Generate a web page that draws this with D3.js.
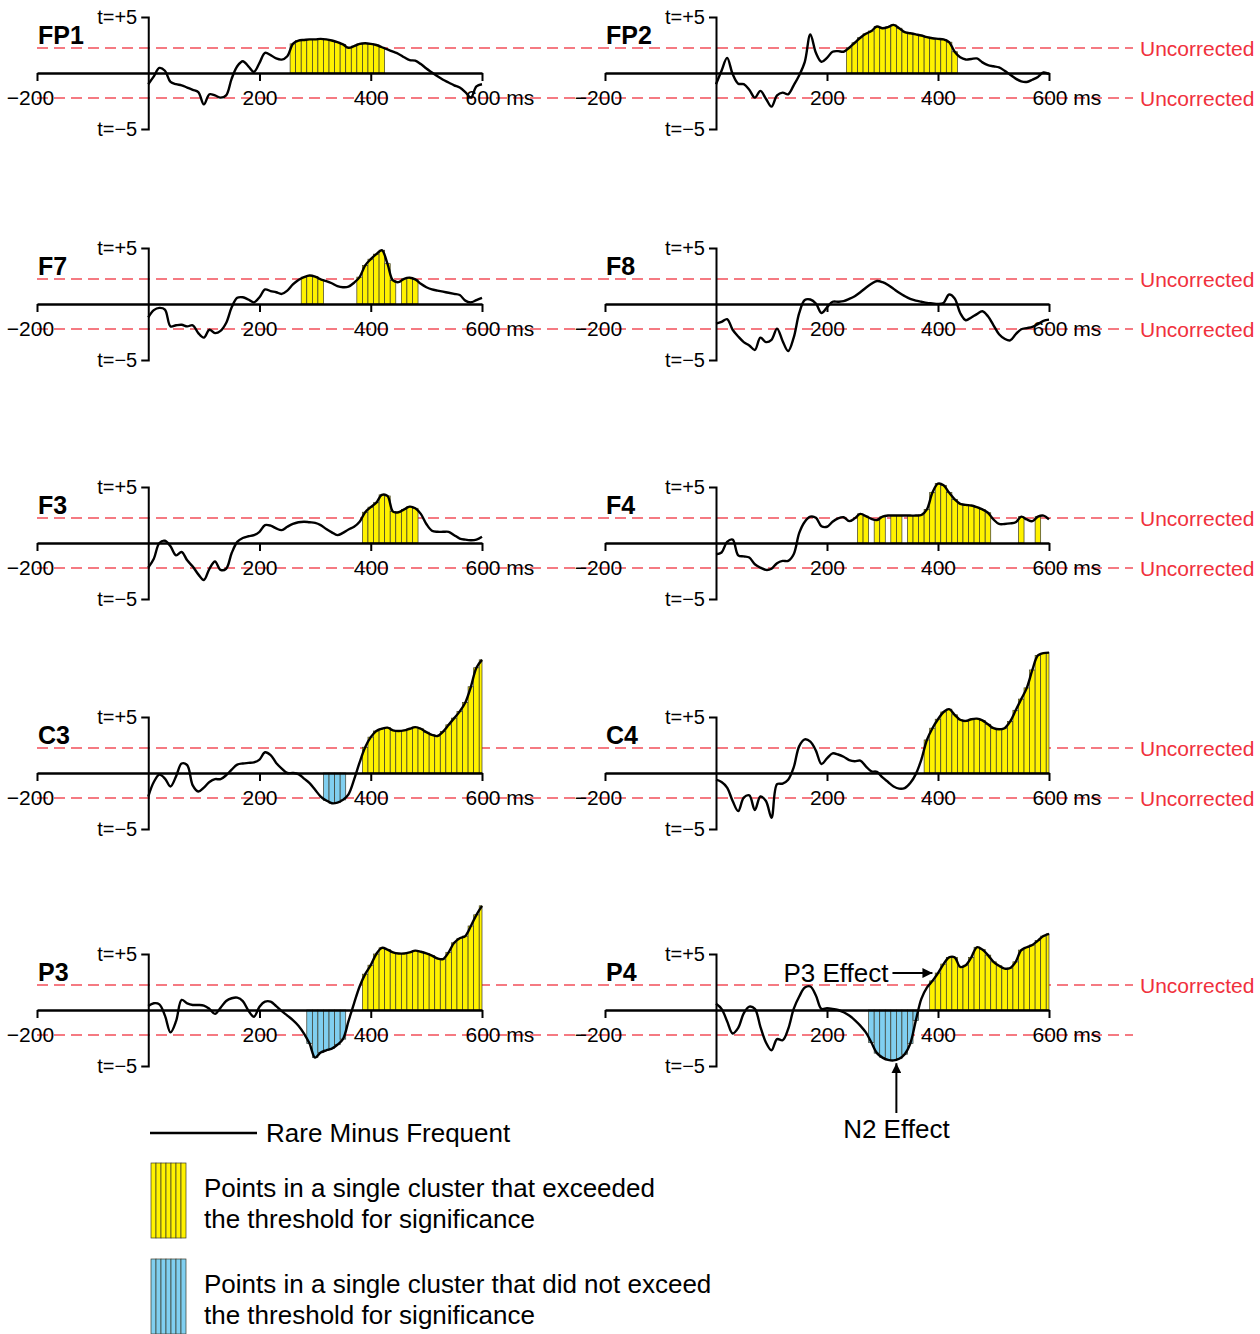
<!DOCTYPE html>
<html lang="en">
<head>
<meta charset="utf-8">
<title>Rare minus frequent, cluster t-values</title>
<script src="https://d3js.org/d3.v7.min.js"></script>
<style>
  body { margin: 0; background: #fff; }
  svg text { font-family: "Liberation Sans", Arial, Helvetica, sans-serif; }
</style>
</head>
<body>
<script>
// sample times (ms) for every waveform
var times = d3.range(0, 601, 10);

// t-values, Rare minus Frequent, one per 10 ms from 0 to 600 ms
var FP1 = [-1.0,-0.3,0.45,0.2,-0.8,-1.0,-1.1,-1.3,-1.5,-1.7,
           -2.8,-1.9,-2.0,-2.2,-2.0,-0.5,0.6,1.05,0.6,0.1,
           0.9,1.8,1.6,1.3,1.2,1.5,2.6,2.9,2.95,3.0,
           3.0,3.05,3.0,2.9,2.75,2.55,2.25,2.4,2.6,2.65,
           2.6,2.5,2.3,2.1,1.9,1.7,1.4,1.15,1.1,0.8,
           0.4,0.05,-0.3,-0.6,-0.85,-1.1,-1.3,-1.7,-2.2,-1.2,
           -1.0];
var FP2 = [-1.0,0.2,1.35,-0.1,-0.95,-1.0,-1.5,-2.2,-1.6,-2.3,
           -3.0,-2.0,-1.75,-1.9,-1.1,-0.2,1.0,3.45,1.8,1.0,
           1.35,1.9,1.95,1.9,2.25,2.7,3.15,3.5,3.75,4.15,
           4.0,4.1,4.3,4.0,3.65,3.55,3.45,3.35,3.2,3.1,
           3.05,3.0,2.75,1.9,1.4,1.2,1.25,1.3,0.95,0.7,
           0.6,0.5,0.2,-0.15,-0.5,-0.75,-0.8,-0.6,-0.35,0.05,
           -0.1];
var F7 = [-1.2,-0.55,-0.35,-0.5,-2.0,-1.9,-1.85,-2.0,-1.9,-2.6,
          -3.0,-2.3,-2.6,-2.4,-1.7,-0.3,0.55,0.6,0.4,0.15,
          0.6,1.3,1.15,1.05,0.9,1.2,1.75,2.15,2.4,2.55,
          2.45,2.2,2.05,1.85,1.6,1.5,1.55,1.9,2.4,3.45,
          4.0,4.45,4.8,3.6,2.1,1.95,2.25,2.35,2.2,1.8,
          1.5,1.3,1.2,1.1,1.0,0.9,0.8,0.3,0.15,0.35,
          0.55];
var F8 = [-1.75,-1.6,-1.35,-2.3,-2.9,-3.4,-3.7,-4.1,-3.0,-3.4,
          -3.2,-2.2,-3.3,-4.2,-3.0,-0.8,0.35,0.4,0.05,-0.8,
          -0.3,0.2,0.2,0.25,0.45,0.7,1.05,1.45,1.8,2.05,
          1.95,1.7,1.35,1.0,0.7,0.45,0.3,0.2,0.1,0.05,
          0.0,0.1,0.85,0.5,-0.8,-1.45,-1.2,-0.9,-0.65,-1.1,
          -1.9,-2.7,-3.1,-3.25,-2.7,-2.25,-2.15,-2.05,-1.8,-1.5,
          -1.4];
var F3 = [-2.2,-1.4,0.0,0.2,-0.3,-1.1,-0.8,-1.55,-2.1,-2.8,
          -3.3,-2.3,-1.65,-2.4,-2.3,-0.9,0.1,0.45,0.6,0.7,
          1.0,1.6,1.55,1.3,1.15,1.45,1.7,1.85,1.9,1.85,
          1.8,1.6,1.25,0.95,0.7,0.9,1.2,1.45,1.9,2.75,
          3.2,3.6,4.3,4.2,2.8,2.75,3.0,3.25,3.1,2.6,
          1.7,1.1,1.0,1.0,1.0,0.7,0.4,0.3,0.25,0.3,
          0.55];
var F4 = [-1.0,-0.85,0.1,0.3,-1.1,-1.2,-1.3,-1.9,-2.2,-2.4,
          -2.3,-1.8,-1.6,-1.6,-1.0,0.9,1.9,2.35,2.25,1.5,
          1.45,1.9,2.2,2.3,1.95,2.2,2.6,2.4,2.15,2.05,
          2.35,2.45,2.45,2.45,2.45,2.45,2.45,2.5,3.0,4.5,
          5.3,5.15,4.5,3.9,3.5,3.4,3.35,3.2,3.0,2.7,
          2.1,1.7,1.7,1.75,1.85,2.35,2.1,1.95,2.35,2.45,
          2.1];
var C3 = [-2.1,-0.8,-0.15,-0.5,-1.2,-0.3,0.85,0.7,-1.1,-1.65,
          -1.3,-0.8,-0.55,-0.55,-0.2,0.3,0.75,0.85,0.9,0.95,
          1.2,1.85,1.6,0.9,0.4,0.0,0.0,-0.1,-0.5,-0.9,
          -1.5,-2.1,-2.45,-2.7,-2.65,-2.4,-1.9,-0.6,0.95,2.3,
          3.2,3.75,3.95,4.05,3.8,3.75,3.8,3.95,4.1,3.95,
          3.65,3.4,3.3,3.7,4.3,4.9,5.5,6.3,7.7,9.4,
          10.1];
var C4 = [-0.6,-0.8,-1.3,-2.5,-3.4,-2.2,-2.0,-3.3,-2.1,-2.5,
          -4.0,-1.0,-0.95,-0.6,0.5,2.4,3.0,2.8,2.0,0.8,
          1.3,1.75,1.65,1.45,1.15,1.05,1.1,0.6,0.15,0.1,
          -0.4,-0.8,-1.2,-1.4,-1.35,-0.9,-0.1,1.2,2.95,4.0,
          4.8,5.45,5.7,5.2,4.75,4.65,4.8,4.85,4.7,4.35,
          4.0,3.9,4.0,4.6,5.6,6.6,7.6,9.2,10.5,10.7,
          10.75];
var P3 = [0.35,0.6,0.5,-0.5,-2.0,-1.0,0.9,0.6,0.45,0.45,
          0.4,0.1,-0.35,0.2,0.8,1.05,1.1,0.8,-0.05,-0.6,
          0.3,0.75,0.75,0.35,-0.1,-0.5,-0.9,-1.4,-2.1,-3.0,
          -4.25,-3.8,-3.6,-3.45,-3.1,-2.6,-1.0,0.6,2.1,3.2,
          4.0,5.0,5.55,5.4,5.15,5.05,5.05,5.15,5.3,5.2,
          5.05,4.85,4.6,4.55,5.15,6.0,6.4,6.6,7.5,8.5,
          9.3];
var P4 = [0.55,0.1,-1.0,-2.1,-1.6,-0.3,0.3,0.1,-1.5,-2.9,
          -3.6,-2.6,-2.7,-1.7,0.1,1.2,2.0,2.1,1.3,0.1,
          0.15,0.1,0.0,-0.2,-0.5,-0.9,-1.4,-2.0,-2.9,-3.85,
          -4.25,-4.45,-4.5,-4.35,-3.95,-3.0,-0.95,1.0,2.0,2.6,
          3.3,4.1,4.7,4.7,3.85,4.0,4.7,5.6,5.4,4.9,
          4.3,3.95,3.7,3.75,4.3,5.35,5.6,5.8,6.2,6.6,
          6.8];

// clusters: [first ms, last ms, "sig" = exceeded threshold / "ns" = did not]
var clustersFP1 = [[260, 420, "sig"]];
var clustersFP2 = [[240, 430, "sig"]];
var clustersF7 = [[280, 310, "sig"], [380, 440, "sig"], [460, 480, "sig"]];
var clustersF8 = [];
var clustersF3 = [[390, 480, "sig"]];
var clustersF4 = [[260, 270, "sig"], [290, 300, "sig"], [320, 330, "sig"], [350, 490, "sig"],
                  [550, 550, "sig"], [580, 580, "sig"]];
var clustersC3 = [[320, 350, "ns"], [390, 600, "sig"]];
var clustersC4 = [[380, 600, "sig"]];
var clustersP3 = [[290, 350, "ns"], [390, 600, "sig"]];
var clustersP4 = [[280, 360, "ns"], [390, 600, "sig"]];

var xTicks = [-200, 200, 400, 600];
var tCrit = 2.228;

var panels = [
    { name: "FP1", values: FP1, clusters: clustersFP1 },
    { name: "FP2", values: FP2, clusters: clustersFP2 },
    { name: "F7",  values: F7,  clusters: clustersF7 },
    { name: "F8",  values: F8,  clusters: clustersF8 },
    { name: "F3",  values: F3,  clusters: clustersF3 },
    { name: "F4",  values: F4,  clusters: clustersF4 },
    { name: "C3",  values: C3,  clusters: clustersC3 },
    { name: "C4",  values: C4,  clusters: clustersC4 },
    { name: "P3",  values: P3,  clusters: clustersP3 },
    { name: "P4",  values: P4,  clusters: clustersP4 }
];

var yellow = "#fff200",
    blue = "#80cff0",
    red = "#f0303c";

var colRange = [[37, 482], [605, 1049]];
var rowZero = [73, 304, 543, 773, 1010];
var halfHeight = 56;      // pixels from t=0 to t=5
var dashEnd = 1133;

var svg = d3.select("body")
    .append("svg")
    .attr("width", 1260)
    .attr("height", 1334);

svg.append("defs").append("marker")
    .attr("id", "arrow")
    .attr("viewBox", "0 0 10 10")
    .attr("refX", 10).attr("refY", 5)
    .attr("markerWidth", 5).attr("markerHeight", 5)
    .attr("markerUnits", "strokeWidth")
    .attr("orient", "auto")
  .append("path")
    .attr("d", "M0,0L10,5L0,10Z")
    .attr("fill", "#000");

// red threshold lines, one pair per row
rowZero.forEach(function(z, row) {
    var y = d3.scaleLinear().domain([-5, 5]).range([z + halfHeight, z - halfHeight]);
    [tCrit, -tCrit].forEach(function(t) {
        svg.append("line")
            .attr("x1", colRange[0][0]).attr("x2", dashEnd)
            .attr("y1", y(t)).attr("y2", y(t))
            .attr("stroke", red)
            .attr("stroke-opacity", 0.85)
            .attr("stroke-width", 1.5)
            .attr("stroke-dasharray", "11,6");
        if (row < 4 || t > 0) {
            svg.append("text")
                .attr("x", 1140).attr("y", y(t))
                .attr("dy", "0.36em")
                .attr("font-size", 21)
                .attr("fill", red)
                .text("Uncorrected");
        }
    });
});

var scales = {};

panels.forEach(function(p, i) {
    var col = i % 2, row = Math.floor(i / 2);
    var z = rowZero[row];
    var x = d3.scaleLinear().domain([-200, 600]).range(colRange[col]);
    var y = d3.scaleLinear().domain([-5, 5]).range([z + halfHeight, z - halfHeight]);
    scales[p.name] = { x: x, y: y };

    var pts = times.map(function(t, k) { return { t: t, v: p.values[k] }; });
    var g = svg.append("g");

    // cluster bars
    p.clusters.forEach(function(c) {
        var inCluster = pts.filter(function(d) { return d.t >= c[0] && d.t <= c[1]; });
        g.selectAll(null)
            .data(inCluster)
            .enter()
            .append("rect")
            .attr("x", function(d) { return x(Math.max(0, d.t - 5)); })
            .attr("width", function(d) { return x(Math.min(600, d.t + 5)) - x(Math.max(0, d.t - 5)); })
            .attr("y", function(d) { return Math.min(y(d.v), y(0)); })
            .attr("height", function(d) { return Math.abs(y(d.v) - y(0)); })
            .attr("fill", c[2] === "ns" ? blue : yellow)
            .attr("stroke", "#3a3a2a")
            .attr("stroke-width", 0.7);
    });

    // x axis
    var xAxis = d3.axisBottom(x)
        .tickValues(xTicks)
        .tickSizeInner(8)
        .tickSizeOuter(0)
        .tickFormat(function(d) { return d < 0 ? "\u2212" + Math.abs(d) : d === 600 ? "600 ms" : d; });
    var gx = g.append("g")
        .attr("transform", "translate(0," + z + ")")
        .call(xAxis);
    gx.select(".domain").attr("stroke-width", 2.5);
    gx.selectAll(".tick line").attr("stroke-width", 2);
    gx.selectAll(".tick text")
        .attr("font-family", null)
        .attr("font-size", 21)
        .attr("fill", "#000")
        .attr("y", 32)
        .attr("dy", null)
        .attr("x", function(d) { return d < 0 ? -7 : d === 600 ? -17 : 0; })
        .attr("text-anchor", function(d) { return d === 600 ? "start" : "middle"; });

    // y axis at time zero
    var yAxis = d3.axisLeft(y)
        .tickValues([-5, 5])
        .tickSizeInner(0)
        .tickSizeOuter(7)
        .tickPadding(11)
        .tickFormat(function(d) { return d > 0 ? "t=+5" : "t=\u22125"; });
    var gy = g.append("g")
        .attr("transform", "translate(" + x(0) + ",0)")
        .call(yAxis);
    gy.select(".domain").attr("stroke-width", 2);
    gy.selectAll(".tick text")
        .attr("font-family", null)
        .attr("font-size", 20)
        .attr("fill", "#000");

    // waveform
    var line = d3.line()
        .x(function(d) { return x(d.t); })
        .y(function(d) { return y(d.v); })
        .curve(d3.curveCatmullRom.alpha(0.5));
    g.append("path")
        .datum(pts)
        .attr("d", line)
        .attr("fill", "none")
        .attr("stroke", "#000")
        .attr("stroke-width", 2.4)
        .attr("stroke-linejoin", "round");

    // electrode name
    g.append("text")
        .attr("x", colRange[col][0] + 1)
        .attr("y", z - 29)
        .attr("font-size", 25)
        .attr("font-weight", "bold")
        .text(p.name);
});

// annotations on P4
var p4x = scales.P4.x, p4y = scales.P4.y;
svg.append("line")
    .attr("x1", p4x(390) - 40).attr("y1", p4y(3.3))
    .attr("x2", p4x(390)).attr("y2", p4y(3.3))
    .attr("stroke", "#000").attr("stroke-width", 2)
    .attr("marker-end", "url(#arrow)");
svg.append("text")
    .attr("x", p4x(390) - 44).attr("y", p4y(3.3))
    .attr("dy", "0.36em")
    .attr("text-anchor", "end")
    .attr("font-size", 26)
    .text("P3 Effect");

svg.append("line")
    .attr("x1", p4x(325)).attr("y1", 1113)
    .attr("x2", p4x(325)).attr("y2", p4y(-4.75))
    .attr("stroke", "#000").attr("stroke-width", 2)
    .attr("marker-end", "url(#arrow)");
svg.append("text")
    .attr("x", p4x(325)).attr("y", 1138)
    .attr("text-anchor", "middle")
    .attr("font-size", 26)
    .text("N2 Effect");

// legend
var legend = svg.append("g");
legend.append("line")
    .attr("x1", 150).attr("x2", 257)
    .attr("y1", 1133).attr("y2", 1133)
    .attr("stroke", "#000").attr("stroke-width", 2.5);
legend.append("text")
    .attr("x", 266).attr("y", 1142)
    .attr("font-size", 26)
    .text("Rare Minus Frequent");

var swatches = [
    { fill: yellow, top: 1163, lines: ["Points in a single cluster that exceeded", "the threshold for significance"] },
    { fill: blue, top: 1259, lines: ["Points in a single cluster that did not exceed", "the threshold for significance"] }
];
swatches.forEach(function(s) {
    legend.selectAll(null)
        .data(d3.range(7))
        .enter()
        .append("rect")
        .attr("x", function(k) { return 151 + k * 5; })
        .attr("y", s.top)
        .attr("width", 5)
        .attr("height", 75)
        .attr("fill", s.fill)
        .attr("stroke", "#3a3a2a")
        .attr("stroke-width", 0.7);
    s.lines.forEach(function(txt, k) {
        legend.append("text")
            .attr("x", 204)
            .attr("y", s.top + 34 + k * 31)
            .attr("font-size", 26)
            .text(txt);
    });
});
</script>
</body>
</html>
